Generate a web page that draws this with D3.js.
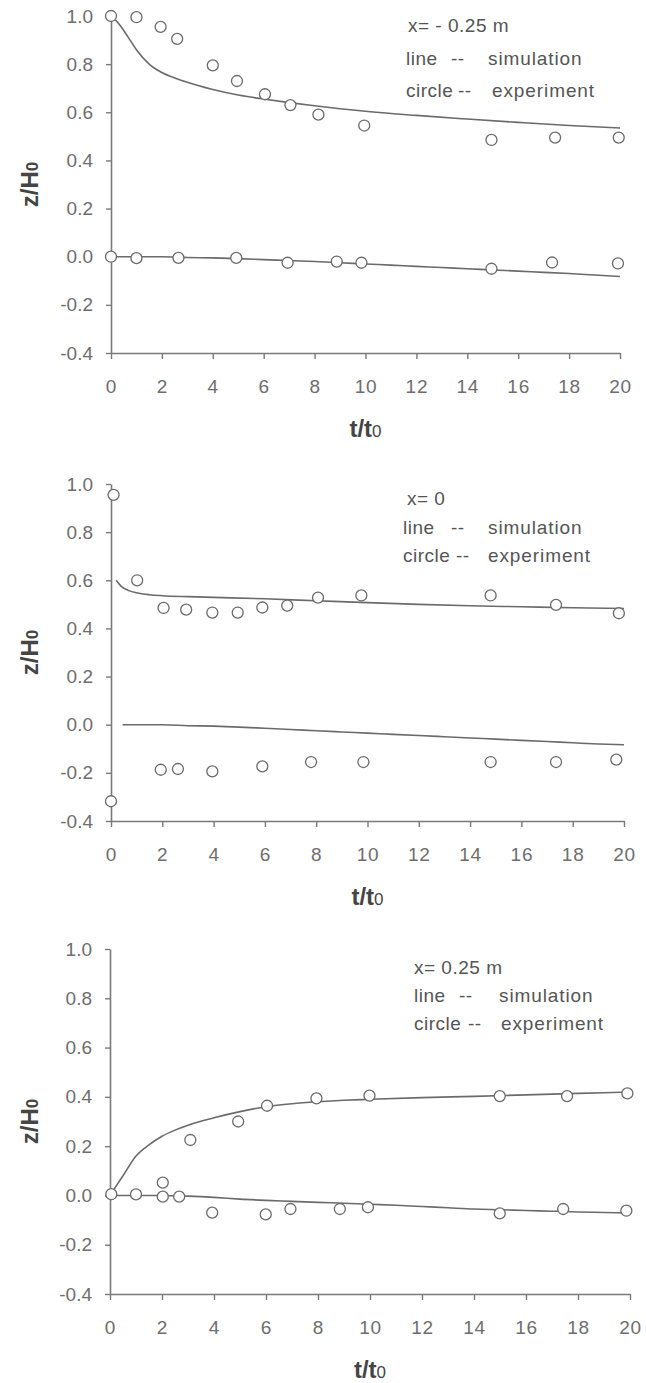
<!DOCTYPE html>
<html><head><meta charset="utf-8">
<script src="https://cdn.jsdelivr.net/npm/d3@7"></script>
<style>body{margin:0;background:#fff} svg{display:block}</style>
</head><body>
<svg id="c" width="646" height="1383"></svg>
<script>
// ---- shared ticks ----
const xTicks = [0, 2, 4, 6, 8, 10, 12, 14, 16, 18, 20];
const yTicks = [-0.4, -0.2, 0.0, 0.2, 0.4, 0.6, 0.8, 1.0];
const xDomain = [0, 20];
const yDomain = [-0.4, 1.0];

// ---- panel 1 : x = -0.25 m ----
const p1Title = "x= - 0.25 m";
const p1SimUpper = [[0,1.0],[0.25,0.975],[0.5,0.94],[0.75,0.90],[1,0.86],[1.5,0.80],[2,0.765],[3,0.725],[4,0.695],[5,0.672],[6,0.655],[7,0.64],[8,0.627],[9,0.615],[10,0.604],[12,0.587],[14,0.572],[16,0.558],[18,0.545],[20,0.535]];
const p1SimLower = [[0,0],[1,0],[2,0],[3,-0.003],[4,-0.005],[5,-0.008],[6,-0.012],[7,-0.016],[8,-0.02],[9,-0.025],[10,-0.03],[11,-0.035],[12,-0.04],[13,-0.045],[14,-0.05],[15,-0.055],[16,-0.06],[17,-0.065],[18,-0.07],[19,-0.076],[20,-0.082]];
const p1ExpUpper = [[0,1.0],[1,0.995],[1.95,0.955],[2.6,0.905],[4,0.795],[4.95,0.73],[6.05,0.675],[7.05,0.63],[8.15,0.59],[9.95,0.545],[14.95,0.485],[17.45,0.495],[19.95,0.495]];
const p1ExpLower = [[0,0.0],[1,-0.006],[2.65,-0.005],[4.92,-0.005],[6.94,-0.025],[8.87,-0.02],[9.84,-0.025],[14.95,-0.05],[17.33,-0.024],[19.92,-0.028]];

// ---- panel 2 : x = 0 ----
const p2Title = "x= 0";
const p2SimUpper = [[0.2,0.6],[0.4,0.575],[0.7,0.557],[1,0.548],[1.5,0.54],[2,0.536],[3,0.532],[4,0.529],[6,0.523],[8,0.515],[10,0.507],[12,0.5],[14,0.494],[16,0.49],[18,0.486],[20,0.483]];
const p2SimLower = [[0.45,0],[1,0],[2,0],[3,-0.004],[4,-0.006],[5,-0.01],[6,-0.015],[7,-0.02],[8,-0.025],[9,-0.03],[10,-0.035],[11,-0.04],[12,-0.045],[13,-0.05],[14,-0.055],[15,-0.06],[16,-0.065],[17,-0.07],[18,-0.075],[19,-0.08],[20,-0.083]];
const p2ExpUpper = [[0.1,0.955],[1.02,0.60],[2.05,0.485],[2.93,0.478],[3.95,0.466],[4.94,0.466],[5.9,0.487],[6.87,0.495],[8.07,0.528],[9.76,0.537],[14.8,0.537],[17.35,0.498],[19.8,0.463]];
const p2ExpLower = [[0,-0.318],[1.94,-0.187],[2.61,-0.184],[3.95,-0.194],[5.9,-0.173],[7.8,-0.155],[9.84,-0.155],[14.8,-0.155],[17.35,-0.155],[19.7,-0.145]];

// ---- panel 3 : x = 0.25 m ----
const p3Title = "x= 0.25 m";
const p3SimUpper = [[0,0],[0.5,0.08],[1,0.16],[1.5,0.205],[2,0.24],[2.5,0.265],[3,0.285],[4,0.315],[5,0.34],[6,0.36],[7,0.372],[8,0.38],[9,0.386],[10,0.39],[12,0.397],[14,0.402],[16,0.408],[18,0.414],[20,0.42]];
const p3SimLower = [[0,0],[1,0],[2,0],[3,-0.003],[4,-0.008],[5,-0.015],[6,-0.02],[7,-0.024],[8,-0.028],[9,-0.032],[10,-0.036],[11,-0.04],[12,-0.045],[13,-0.05],[14,-0.055],[15,-0.058],[16,-0.061],[17,-0.064],[18,-0.067],[19,-0.069],[20,-0.071]];
const p3ExpUpper = [[3.09,0.225],[4.93,0.30],[6.04,0.364],[7.94,0.394],[9.98,0.405],[14.99,0.403],[17.58,0.403],[19.9,0.414]];
const p3ExpLower = [[0.05,0.005],[1,0.004],[2.03,0.052],[2.03,-0.005],[2.66,-0.005],[3.93,-0.07],[5.99,-0.077],[6.94,-0.055],[8.84,-0.055],[9.92,-0.048],[14.99,-0.073],[17.43,-0.055],[19.86,-0.062]];

const legendLine = ["line", "--", "simulation"];
const legendCircle = ["circle", "--", "experiment"];

// ---- layout (positions only) ----
const panels = [
  {title:p1Title, sims:[p1SimUpper,p1SimLower], exps:[p1ExpUpper,p1ExpLower],
   x0:111, x1:620, yTop:16, yBot:353, lg:{x:406, tx:408, rows:[25,58,90], dash:[451,458], word:[488,492]}},
  {title:p2Title, sims:[p2SimUpper,p2SimLower], exps:[p2ExpUpper,p2ExpLower],
   x0:111, x1:624, yTop:484, yBot:821, lg:{x:403, tx:407, rows:[498,527,555], dash:[451,456], word:[488,488]}},
  {title:p3Title, sims:[p3SimUpper,p3SimLower], exps:[p3ExpUpper,p3ExpLower],
   x0:110, x1:630, yTop:949, yBot:1294, lg:{x:414, tx:414, rows:[967,995,1023], dash:[459,468], word:[499,501]}}
];

const svg = d3.select("#c");
const FONT = "'Liberation Sans', Arial, Helvetica, sans-serif";
const axisColor = "#7a7a7a";
const tickText = "#6e6e6e";
const markColor = "#6b6b6b";

panels.forEach(p => {
  const x = d3.scaleLinear().domain(xDomain).range([p.x0, p.x1]);
  const y = d3.scaleLinear().domain(yDomain).range([p.yBot, p.yTop]);
  const g = svg.append("g");

  // y axis
  const ya = g.append("g").attr("transform", `translate(${p.x0},0)`)
    .call(d3.axisLeft(y).tickValues(yTicks).tickSize(5).tickSizeOuter(0).tickPadding(13)
      .tickFormat(d => d.toFixed(1)));
  // x axis
  const xa = g.append("g").attr("transform", `translate(0,${p.yBot})`)
    .call(d3.axisBottom(x).tickValues(xTicks).tickSize(6).tickSizeOuter(0).tickPadding(21)
      .tickFormat(d3.format("d")));
  [ya, xa].forEach(a => {
    a.select(".domain").attr("stroke", axisColor).attr("stroke-width", 1.6);
    a.selectAll(".tick line").attr("stroke", axisColor).attr("stroke-width", 1.4);
    a.selectAll(".tick text").attr("fill", tickText).attr("font-family", FONT)
      .attr("font-size", 19);
  });
  xa.selectAll(".tick text").attr("letter-spacing", 0.8);

  // axis labels
  const xl = g.append("text").attr("x", (p.x0 + p.x1) / 2).attr("y", p.yBot + 84)
    .attr("text-anchor", "middle").attr("font-family", FONT).attr("fill", "#454545");
  xl.append("tspan").attr("font-weight", "bold").attr("font-size", 24).text("t/t");
  xl.append("tspan").attr("font-size", 17).attr("font-weight", "normal").text("0");

  const cy = (p.yTop + p.yBot) / 2;
  const yl = g.append("text").attr("transform", `translate(38,${cy}) rotate(-90)`)
    .attr("text-anchor", "middle").attr("font-family", FONT).attr("fill", "#454545");
  yl.append("tspan").attr("font-weight", "bold").attr("font-size", 24).text("z/H");
  yl.append("tspan").attr("font-size", 17).attr("font-weight", "bold").text("0");

  // simulation lines
  const line = d3.line().x(d => x(d[0])).y(d => y(d[1])).curve(d3.curveMonotoneX);
  p.sims.forEach(s => {
    g.append("path").datum(s).attr("d", line).attr("fill", "none")
      .attr("stroke", markColor).attr("stroke-width", 1.6);
  });
  // experiment circles
  p.exps.forEach(e => {
    g.selectAll(null).data(e).enter().append("circle")
      .attr("cx", d => x(d[0])).attr("cy", d => y(d[1])).attr("r", 5.5)
      .attr("fill", "#fff").attr("stroke", markColor).attr("stroke-width", 1.3);
  });

  // legend text
  const lt = g.append("g").attr("font-family", FONT).attr("font-size", 19)
    .attr("fill", "#555").attr("letter-spacing", 0.5);
  lt.append("text").attr("x", p.lg.tx).attr("y", p.lg.rows[0]).attr("dy", "0.35em").text(p.title);
  [legendLine, legendCircle].forEach((row, i) => {
    const t = lt.append("text").attr("y", p.lg.rows[i + 1]).attr("dy", "0.35em");
    t.append("tspan").attr("x", p.lg.x).text(row[0]);
    t.append("tspan").attr("x", p.lg.dash[i]).text(row[1]);
    t.append("tspan").attr("x", p.lg.word[i]).attr("letter-spacing", 0.9).text(row[2]);
  });
});
</script>
</body></html>
